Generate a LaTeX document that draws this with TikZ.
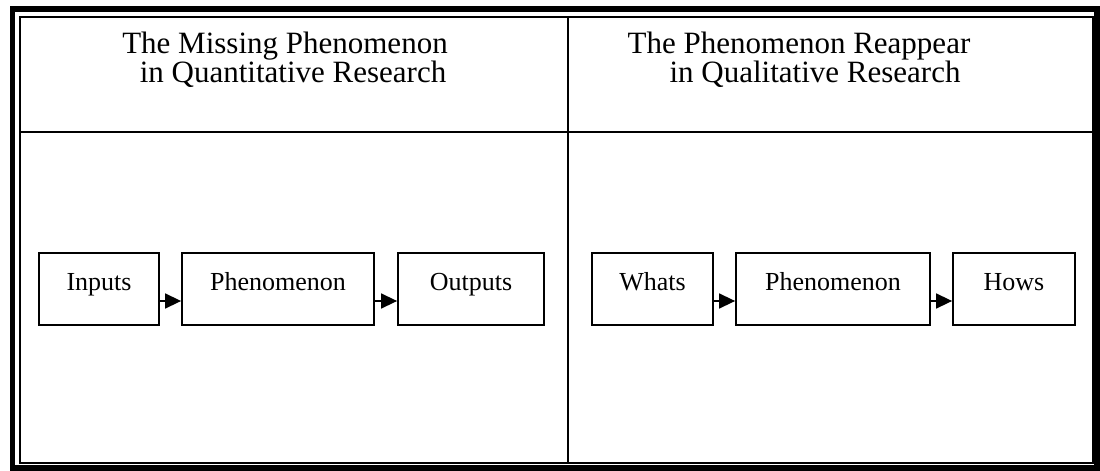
\documentclass[tikz,border=0pt]{standalone}
\usepackage{fontspec}
\setmainfont{Liberation Serif}
\usetikzlibrary{arrows.meta}
\tikzset{
  boxnode/.style={draw=black, line width=1.8pt, rectangle, inner sep=0pt,
    minimum height=72pt, text height=18pt, text depth=16pt,
    font=\fontsize{26}{28}\selectfont},
  titleline/.style={anchor=base, inner sep=0pt, font=\fontsize{31}{30}\selectfont},
  flow/.style={line width=1.5pt, -{Triangle[length=16pt,width=15pt]}},
  frameouter/.style={line width=5.5pt},
  framethin/.style={line width=2pt}
}
\begin{document}
\begin{tikzpicture}[x=1pt,y=-1pt]
\useasboundingbox (0,0) rectangle (1100,471);
% frame
\draw[frameouter] (12.5,9) rectangle (1097,468);
\draw[framethin] (20,16.5) rectangle (1093,463);
\draw[framethin] (20,132) -- (1093,132);
\draw[framethin] (568,16.5) -- (568,463);
% titles
\node[titleline] (t1a) at (285,53) {The Missing Phenomenon};
\node[titleline] (t1b) at (293,82) {in Quantitative Research};
\node[titleline] (t2a) at (799,53) {The Phenomenon Reappear};
\node[titleline] (t2b) at (815,82) {in Qualitative Research};
% boxes
\node[boxnode, minimum width=120pt] (in1) at (99,289) {Inputs};
\node[boxnode, minimum width=192pt] (ph1) at (278,289) {Phenomenon};
\node[boxnode, minimum width=146pt] (out1) at (471,289) {Outputs};
\node[boxnode, minimum width=121pt] (wh) at (652.5,289) {Whats};
\node[boxnode, minimum width=194pt] (ph2) at (833,289) {Phenomenon};
\node[boxnode, minimum width=122pt] (hw) at (1014,289) {Hows};
% arrows
\draw[flow] (in1.east |- 0,301) -- (ph1.west |- 0,301);
\draw[flow] (ph1.east |- 0,301) -- (out1.west |- 0,301);
\draw[flow] (wh.east |- 0,301) -- (ph2.west |- 0,301);
\draw[flow] (ph2.east |- 0,301) -- (hw.west |- 0,301);
\end{tikzpicture}
\end{document}
